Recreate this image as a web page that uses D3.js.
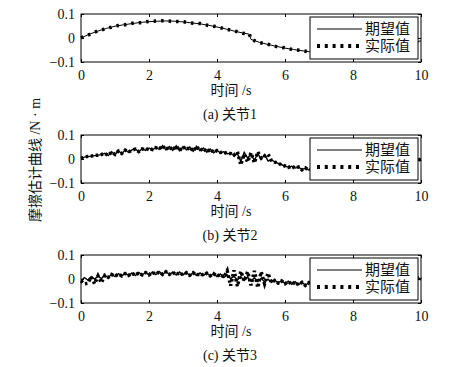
<!DOCTYPE html>
<html>
<head>
<meta charset="utf-8">
<script src="https://cdn.jsdelivr.net/npm/d3@7"></script>
<style>
  body { margin: 0; background: #fff; }
  text { font-family: "Liberation Serif", "Noto Sans CJK SC", serif; fill: #111; }
</style>
</head>
<body>
<svg id="chart" width="456" height="367"></svg>
<script>
// ---- data ----
var xTicks = [0, 2, 4, 6, 8, 10];
var yTicks = [-0.1, 0, 0.1];
var legendNames = ["期望值", "实际值"];
var captions = ["(a) 关节1", "(b) 关节2", "(c) 关节3"];
var xTitle = "时间 /s";
var yTitle = "摩擦估计曲线 /N · m";

// joint 1 (smooth)
var time1 = [0,0.25,0.5,0.75,1,1.25,1.5,1.75,2,2.25,2.5,2.75,3,3.25,3.5,3.75,4,4.25,4.5,4.75,4.95,5,
  5.25,5.5,5.75,6,6.25,6.5,6.75,7,7.25,7.5,7.75,8,8.25,8.5,8.75,9,9.25,9.5,9.75,10];
var desired1 = [0.000,0.016,0.029,0.040,0.049,0.055,0.060,0.065,0.068,0.070,0.071,0.070,0.067,0.063,0.059,
  0.053,0.046,0.038,0.029,0.021,0.016,-0.006,-0.018,-0.027,-0.035,-0.042,-0.048,-0.053,-0.058,-0.062,
  -0.064,-0.065,-0.064,-0.061,-0.057,-0.051,-0.045,-0.038,-0.031,-0.025,-0.018,-0.012];
var actual1 = [0.001,0.015,0.030,0.039,0.050,0.054,0.061,0.064,0.069,0.071,0.072,0.069,0.068,0.062,0.060,
  0.052,0.047,0.037,0.030,0.020,0.017,-0.005,-0.019,-0.026,-0.036,-0.041,-0.049,-0.052,-0.059,-0.061,
  -0.065,-0.064,-0.065,-0.060,-0.058,-0.050,-0.046,-0.037,-0.032,-0.024,-0.019,-0.011];

// joints 2 and 3 sampled every 0.1 s
var time23 = d3.range(0, 101).map(function(i) { return i / 10; });
var desired2 = [
  0.002,0.008,0.010,0.012,0.014,0.016,0.018,0.024,0.014,0.030,
  0.018,0.034,0.022,0.038,0.028,0.038,0.042,0.030,0.043,0.036,
  0.046,0.038,0.048,0.040,0.056,0.038,0.052,0.036,0.055,0.034,
  0.052,0.038,0.050,0.032,0.053,0.034,0.046,0.028,0.042,0.026,
  0.036,0.026,0.030,0.022,0.024,0.014,0.022,-0.010,0.028,0.004,
  0.020,-0.006,0.024,-0.002,0.018,-0.008,-0.004,-0.012,-0.018,-0.024,
  -0.030,-0.034,-0.030,-0.038,-0.034,-0.044,-0.038,-0.046,-0.042,-0.048,
  -0.044,-0.050,-0.046,-0.050,-0.044,-0.048,-0.042,-0.046,-0.038,-0.042,
  -0.034,-0.038,-0.030,-0.034,-0.026,-0.030,-0.022,-0.026,-0.018,-0.022,
  -0.014,-0.018,-0.010,-0.014,-0.006,-0.010,-0.002,-0.008,0.000,-0.006,
  0.000];
var actual2 = [
  0.003,0.007,0.011,0.012,0.015,0.016,0.019,0.023,0.015,0.029,
  0.019,0.033,0.023,0.037,0.029,0.037,0.041,0.031,0.042,0.037,
  0.045,0.039,0.047,0.041,0.055,0.039,0.051,0.037,0.054,0.035,
  0.051,0.039,0.049,0.033,0.052,0.035,0.045,0.029,0.041,0.027,
  0.035,0.027,0.029,0.023,0.023,0.016,0.030,-0.024,0.020,-0.012,
  0.026,-0.016,0.030,0.004,0.012,0.020,-0.006,-0.013,-0.017,-0.025,
  -0.029,-0.035,-0.029,-0.039,-0.033,-0.045,-0.037,-0.047,-0.041,-0.049,
  -0.043,-0.051,-0.045,-0.051,-0.043,-0.049,-0.041,-0.047,-0.037,-0.043,
  -0.033,-0.039,-0.029,-0.035,-0.025,-0.031,-0.021,-0.027,-0.017,-0.023,
  -0.013,-0.019,-0.009,-0.015,-0.005,-0.011,-0.001,-0.009,0.001,-0.007,
  0.001];
var desired3 = [
  -0.006,0.006,-0.004,0.010,0.000,0.012,0.002,0.016,0.006,0.020,
  0.010,0.022,0.012,0.024,0.014,0.025,0.014,0.027,0.016,0.028,
  0.016,0.029,0.018,0.031,0.018,0.031,0.018,0.029,0.016,0.029,
  0.016,0.027,0.014,0.027,0.014,0.025,0.014,0.025,0.012,0.023,
  0.010,0.021,0.006,0.017,0.002,0.011,-0.004,0.009,-0.006,0.007,
  -0.008,0.005,-0.010,0.003,-0.012,-0.001,-0.014,-0.005,-0.016,-0.007,
  -0.019,-0.009,-0.022,-0.011,-0.024,-0.013,-0.026,-0.015,-0.028,-0.017,
  -0.029,-0.018,-0.029,-0.019,-0.028,-0.017,-0.027,-0.016,-0.025,-0.014,
  -0.023,-0.012,-0.021,-0.010,-0.019,-0.008,-0.017,-0.006,-0.015,-0.004,
  -0.013,-0.002,-0.011,0.000,-0.009,0.002,-0.008,0.005,-0.007,0.007,
  -0.002];
var actual3 = [
  -0.008,-0.020,-0.018,0.008,-0.020,0.013,-0.016,0.015,0.007,0.019,
  0.011,0.021,0.013,0.023,0.015,0.024,0.015,0.026,0.017,0.027,
  0.017,0.028,0.019,0.030,0.019,0.030,0.019,0.028,0.017,0.028,
  0.017,0.026,0.015,0.026,0.015,0.024,0.015,0.024,0.013,0.022,
  0.011,0.020,0.007,0.034,-0.028,0.036,-0.030,0.032,-0.008,0.030,
  -0.026,0.034,-0.036,0.030,-0.020,0.024,-0.015,-0.006,-0.017,-0.008,
  -0.020,-0.010,-0.023,-0.012,-0.025,-0.014,-0.027,-0.016,-0.029,-0.018,
  -0.030,-0.019,-0.030,-0.020,-0.029,-0.018,-0.028,-0.017,-0.026,-0.015,
  -0.024,-0.013,-0.022,-0.011,-0.020,-0.009,-0.018,-0.007,-0.016,-0.005,
  -0.014,-0.003,-0.012,-0.001,-0.010,0.001,-0.009,0.004,-0.008,0.006,
  -0.001];

var panels = [
  { top: 14,  time: time1,  desired: desired1, actual: actual1, caption: captions[0] },
  { top: 135, time: time23, desired: desired2, actual: actual2, caption: captions[1] },
  { top: 255, time: time23, desired: desired3, actual: actual3, caption: captions[2] }
];

// ---- layout ----
var svg = d3.select("#chart"),
    left = 81, plotW = 340, plotH = 48;

var x = d3.scaleLinear().domain([0, 10]).range([0, plotW]);
var y = d3.scaleLinear().domain([-0.1, 0.1]).range([plotH, 0]);
var fmt = function(d) { return d === 0 ? "0" : d3.format(".1f")(d); };

panels.forEach(function(p, k) {
  var g = svg.append("g").attr("transform", "translate(" + left + "," + p.top + ")");

  // inward ticks on all four sides
  g.append("g").attr("transform", "translate(0," + plotH + ")")
      .call(d3.axisBottom(x).tickValues(xTicks).tickSizeInner(-3).tickSizeOuter(0).tickPadding(8).tickFormat(d3.format("d")));
  g.append("g").call(d3.axisTop(x).tickValues(xTicks).tickSizeInner(-3).tickSizeOuter(0).tickFormat(""));
  g.append("g")
      .call(d3.axisLeft(y).tickValues(yTicks).tickSizeInner(-3).tickSizeOuter(0).tickPadding(6).tickFormat(fmt));
  g.append("g").attr("transform", "translate(" + plotW + ",0)")
      .call(d3.axisRight(y).tickValues(yTicks).tickSizeInner(-3).tickSizeOuter(0).tickFormat(""));

  g.selectAll(".domain").remove();
  g.selectAll(".tick line").attr("stroke", "#000");
  g.selectAll(".tick text").style("font-size", "14px").style("font-family", "Liberation Serif").attr("fill", "#111");

  g.append("rect")
    .attr("width", plotW).attr("height", plotH)
    .attr("fill", "none").attr("stroke", "#000").attr("stroke-width", 1);

  var line = d3.line()
    .x(function(d, i) { return x(p.time[i]); })
    .y(function(d) { return y(d); });

  g.append("path").datum(p.desired)
    .attr("d", line).attr("fill", "none")
    .attr("stroke", "#000").attr("stroke-width", k === 0 ? 1 : 1.4);

  // joint 1 markers are sparser than the noisy ones
  g.append("path").datum(p.actual)
    .attr("d", line).attr("fill", "none")
    .attr("stroke", "#000").attr("stroke-width", 3.5)
    .attr("stroke-dasharray", k === 0 ? "2.5,5" : "2.5,2.5");

  // legend box
  var lg = g.append("g").attr("transform", "translate(" + (310 - left) + ",3)");
  lg.append("rect").attr("width", 108).attr("height", 42)
    .attr("fill", "#fff").attr("stroke", "#000").attr("stroke-width", 1);
  lg.append("line").attr("x1", 7).attr("x2", 52).attr("y1", 12).attr("y2", 12)
    .attr("stroke", "#000").attr("stroke-width", 1);
  lg.append("line").attr("x1", 7).attr("x2", 52).attr("y1", 29).attr("y2", 29)
    .attr("stroke", "#000").attr("stroke-width", 4).attr("stroke-dasharray", "3,4.8");
  lg.selectAll("text.leg").data(legendNames).enter().append("text")
    .attr("class", "leg")
    .attr("x", 55)
    .attr("y", function(d, i) { return 12 + i * 17; })
    .attr("dominant-baseline", "central")
    .style("font-size", "15px")
    .text(function(d) { return d; });

  // x title and caption
  g.append("text").attr("x", plotW / 2 - 20).attr("y", 81)
    .attr("text-anchor", "middle").style("font-size", "14px").text(xTitle);
  g.append("text").attr("x", plotW / 2 - 21).attr("y", 105)
    .attr("text-anchor", "middle").style("font-size", "14px").text(p.caption);
});

// shared y title
svg.append("text")
  .attr("transform", "translate(35,160) rotate(-90)")
  .attr("text-anchor", "middle")
  .attr("dominant-baseline", "central")
  .attr("fill", "#111")
  .style("font-size", "14px")
  .text(yTitle);
</script>
</body>
</html>
